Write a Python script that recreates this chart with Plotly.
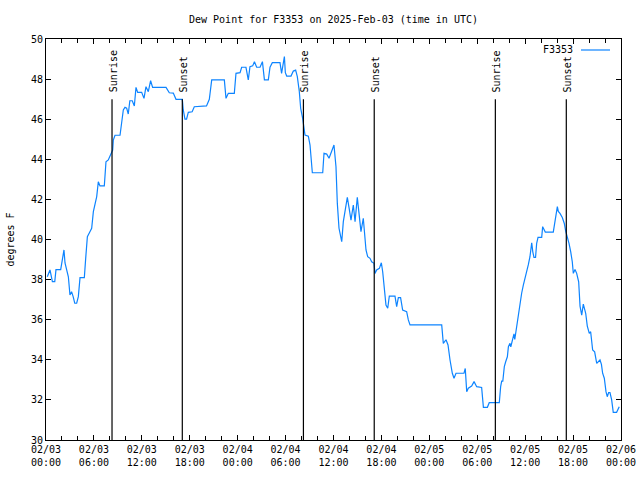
import pandas as pd
import plotly.graph_objects as go

# hours since 2025-02-03 00:00 UTC
hours = [0.16, 0.5, 0.8, 1.1, 1.25, 1.84, 2.25, 2.38, 2.59, 2.8, 3.0, 3.2, 3.4, 3.6, 3.84, 4.05, 4.26, 4.8,
         4.97, 5.18, 5.5, 5.72, 5.93, 6.14, 6.35, 6.55, 6.76, 7.3, 7.51, 7.8, 8.1, 8.35, 8.43, 8.64, 9.27,
         9.47, 9.68, 9.89, 10.1, 10.3, 10.5, 10.8, 11.06, 11.27, 11.48, 11.98, 12.27, 12.52, 12.81, 13.1,
         13.35, 15.03, 15.44, 15.94, 16.28, 17.07, 17.19, 17.4, 17.6, 17.82, 18.3, 18.57, 20.1, 20.45,
         20.75, 22.33, 22.54, 22.83, 23.58, 23.79, 24.3, 24.5, 25.04, 25.33, 25.54, 25.88, 26.1, 26.38,
         26.8, 27.1, 27.35, 27.84, 28.05, 28.34, 29.3, 29.5, 29.7, 29.85, 29.97, 30.14, 30.68, 30.97,
         31.26, 31.47, 31.72, 31.89, 32.14, 32.3, 32.43, 32.85, 33.06, 33.35, 34.65, 34.81, 35.15, 35.44,
         35.77, 36.06, 36.31, 36.48, 36.69, 36.9, 37.03, 37.23, 37.44, 37.73, 37.98, 38.19, 38.48, 38.7,
         38.98, 39.23, 39.44, 39.73, 39.94, 40.07, 40.28, 40.57, 40.78, 41.07, 41.2, 41.4, 41.74, 41.99,
         42.16, 42.37, 42.57, 42.79, 42.99, 43.7, 43.91, 44.12, 44.4, 44.66, 45.16, 45.37, 45.58, 49.55,
         49.75, 50.09, 50.34, 50.59, 50.88, 51.09, 51.34, 52.34, 52.5, 52.68, 52.88, 53.3, 53.6, 53.93,
         54.55, 54.77, 55.27, 55.5, 56.76, 56.93, 57.06, 57.2, 57.39, 57.56, 57.77, 57.9, 58.1, 58.2,
         58.44, 58.6, 58.7, 58.94, 59.14, 59.35, 59.56, 59.77, 59.98, 60.19, 60.39, 60.6, 60.82, 60.95,
         61.1, 61.3, 61.44, 61.61, 62.07, 62.19, 62.35, 62.52, 63.52, 63.74, 63.9, 64.03, 64.15, 64.36,
         64.65, 64.9, 65.08, 65.28, 65.49, 65.7, 65.9, 66.03, 66.24, 66.45, 66.7, 66.87, 67.08, 67.28,
         67.58, 67.78, 68.03, 68.2, 68.45, 68.7, 68.96, 69.37, 69.55, 69.7, 69.91, 70.12, 70.28, 70.45,
         70.62, 70.83, 71.03, 71.45, 71.78]
dewpoint = [38.14, 38.48, 37.9, 37.9, 38.5, 38.5, 39.48, 38.83, 38.48, 38.14, 37.23, 37.4, 37.15, 36.82,
            36.82, 37.15, 38.1, 38.1, 39.06, 40.14, 40.39, 40.56, 41.39, 41.8, 42.14, 42.88, 42.67, 42.67,
            43.88, 43.97, 44.21, 44.46, 44.96, 45.2, 45.2, 45.71, 46.46, 46.59, 46.55, 46.26, 46.92, 46.92,
            46.66, 47.59, 47.34, 47.34, 47.04, 47.62, 47.37, 47.92, 47.59, 47.59, 47.32, 47.3, 46.99, 46.99,
            46.46, 46.0, 46.0, 46.34, 46.37, 46.62, 46.66, 46.99, 47.96, 47.96, 47.04, 47.29, 47.29, 48.29,
            48.32, 48.59, 48.59, 47.96, 48.62, 48.66, 48.87, 48.59, 48.59, 48.87, 47.96, 47.96, 48.59, 48.82,
            48.82, 48.29, 48.87, 49.12, 48.32, 48.15, 48.15, 48.4, 48.45, 48.12, 47.37, 46.54, 46.04, 45.46,
            45.21, 45.15, 44.71, 43.33, 43.33, 44.3, 44.26, 44.05, 44.38, 44.71, 43.63, 41.8, 40.56, 40.06,
            39.89, 40.89, 41.39, 42.1, 41.5, 40.97, 41.72, 40.89, 42.1, 41.3, 40.39, 41.06, 40.14, 39.48,
            39.14, 39.06, 38.89, 38.81, 38.31, 38.48, 38.56, 38.84, 38.39, 37.32, 36.73, 36.57, 37.18, 37.18,
            36.65, 37.1, 37.1, 36.48, 36.4, 35.99, 35.74, 35.74, 34.82, 35.0, 34.74, 33.99, 33.33, 33.08,
            33.33, 33.33, 33.57, 32.41, 32.58, 32.69, 32.91, 32.66, 32.62, 31.63, 31.63, 31.86, 31.86, 32.66,
            32.94, 32.94, 33.66, 33.9, 34.15, 34.65, 34.82, 34.65, 35.0, 35.29, 35.02, 35.74, 36.23, 36.9,
            37.32, 37.73, 38.06, 38.31, 38.73, 39.14, 39.84, 39.4, 39.11, 39.11, 39.81, 40.11, 40.11, 40.64,
            40.5, 40.37, 40.37, 40.89, 41.47, 41.64, 41.4, 41.3, 41.1, 40.8, 40.4, 40.14, 39.81, 39.39, 38.89,
            38.31, 38.5, 38.31, 37.89, 36.68, 36.23, 36.78, 36.32, 35.68, 35.32, 35.4, 34.49, 34.4, 33.82,
            33.99, 33.77, 33.33, 33.08, 32.41, 32.16, 32.36, 32.36, 32.0, 31.38, 31.38, 31.66]

sun_events = ["2025-02-03 08:16", "2025-02-03 17:04", "2025-02-04 08:14",
              "2025-02-04 17:06", "2025-02-05 08:16", "2025-02-05 17:09"]
sun_labels = ["Sunrise", "Sunset", "Sunrise", "Sunset", "Sunrise", "Sunset"]

tick_times = pd.date_range("2025-02-03 00:00", "2025-02-06 00:00", freq="6h")
tick_text = [t.strftime("%m/%d<br>%H:%M") for t in tick_times]
y_ticks = list(range(30, 51, 2))

base = pd.Timestamp("2025-02-03 00:00")
times = [base + pd.Timedelta(hours=h) for h in hours]

FONT = "DejaVu Sans Mono"
LINE_COLOR = "#0d84ff"
L, R, T, B = 46, 621, 39, 440

fig = go.Figure()
fig.add_trace(go.Scatter(x=times, y=dewpoint, mode="lines", name="F3353",
                         line=dict(color=LINE_COLOR, width=1.2), showlegend=False))

for t, lab in zip(sun_events, sun_labels):
    fig.add_shape(type="line", x0=t, x1=t, y0=30, y1=47, xref="x", yref="y",
                  line=dict(color="black", width=1.2))
    fig.add_annotation(x=t, y=47, xref="x", yref="y", text=lab, textangle=-90,
                       showarrow=False, yanchor="bottom", xanchor="center", yshift=5, xshift=1,
                       font=dict(family=FONT, size=10, color="black"))

px_x = lambda p: (p - L) / (R - L)
px_y = lambda p: (B - p) / (B - T)

# legend (gnuplot style: text then line sample)
fig.add_annotation(x=px_x(575), y=px_y(50), xref="paper", yref="paper", text="F3353", showarrow=False,
                   xanchor="right", yanchor="middle", font=dict(family=FONT, size=10, color="black"))
fig.add_shape(type="line", xref="paper", yref="paper", x0=px_x(581), x1=px_x(610),
              y0=px_y(50), y1=px_y(50), line=dict(color=LINE_COLOR, width=1.2))

fig.update_layout(
    width=640, height=480,
    margin=dict(l=L, r=640 - R, t=T, b=480 - B, autoexpand=False),
    paper_bgcolor="white", plot_bgcolor="white",
    font=dict(family=FONT, size=10, color="black"),
    title=dict(text="Dew Point for F3353 on 2025-Feb-03 (time in UTC)", x=333.5 / 640,
               xanchor="center", y=1 - 19 / 480, yanchor="middle",
               font=dict(family=FONT, size=10, color="black")),
    xaxis=dict(range=[tick_times[0], tick_times[-1]], tickvals=list(tick_times), ticktext=tick_text,
               ticks="inside", ticklen=5, tickcolor="black", showline=True, linecolor="black",
               linewidth=1, mirror="ticks", showgrid=False, zeroline=False, automargin=False,
               minor=dict(dtick=2 * 3600 * 1000, ticks="inside", ticklen=4, tickcolor="black",
                          showgrid=False),
               tickfont=dict(family=FONT, size=10)),
    yaxis=dict(range=[30, 50], tickvals=y_ticks, ticks="inside", ticklen=5, tickcolor="black",
               showline=True, linecolor="black", linewidth=1, mirror="ticks", showgrid=False,
               zeroline=False, automargin=False,
               title=dict(text="degrees F", standoff=14, font=dict(family=FONT, size=10)),
               tickfont=dict(family=FONT, size=10)),
)

fig.write_html("out.html")
